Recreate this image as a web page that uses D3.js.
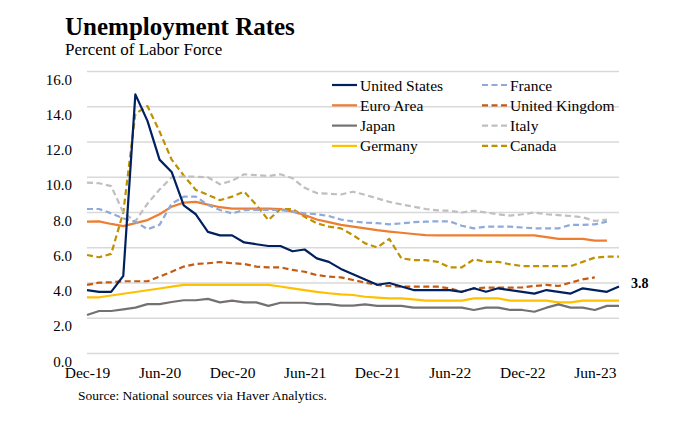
<!DOCTYPE html>
<html><head><meta charset="utf-8">
<script src="https://cdn.jsdelivr.net/npm/d3@7"></script>
<style>
html,body{margin:0;padding:0;background:#fff;}
svg text{font-family:"Liberation Serif","Times New Roman",serif;fill:#000;}
</style></head>
<body><svg id="c" width="690" height="424"></svg>
<script>
const months = ["Dec-19","Jan-20","Feb-20","Mar-20","Apr-20","May-20","Jun-20","Jul-20","Aug-20","Sep-20","Oct-20","Nov-20",
"Dec-20","Jan-21","Feb-21","Mar-21","Apr-21","May-21","Jun-21","Jul-21","Aug-21","Sep-21","Oct-21","Nov-21",
"Dec-21","Jan-22","Feb-22","Mar-22","Apr-22","May-22","Jun-22","Jul-22","Aug-22","Sep-22","Oct-22","Nov-22",
"Dec-22","Jan-23","Feb-23","Mar-23","Apr-23","May-23","Jun-23","Jul-23","Aug-23"];
const xTickLabels = ["Dec-19","Jun-20","Dec-20","Jun-21","Dec-21","Jun-22","Dec-22","Jun-23"];
const yTicks = [0,2,4,6,8,10,12,14,16];

const unitedStates = [3.6,3.5,3.5,4.4,14.7,13.2,11.0,10.3,8.4,7.9,6.9,6.7,6.7,6.3,6.2,6.1,6.1,5.8,5.9,5.4,5.2,4.8,4.5,4.2,3.9,4.0,3.8,3.6,3.6,3.6,3.6,3.5,3.7,3.5,3.7,3.6,3.5,3.4,3.6,3.5,3.4,3.7,3.6,3.5,3.8];
const euroArea = [7.48,7.5,7.35,7.23,7.4,7.57,7.9,8.33,8.56,8.6,8.45,8.3,8.22,8.22,8.22,8.22,8.2,8.05,7.86,7.6,7.45,7.3,7.2,7.1,7.0,6.92,6.85,6.78,6.72,6.7,6.7,6.7,6.7,6.7,6.7,6.7,6.7,6.7,6.6,6.5,6.5,6.5,6.4,6.4];
const japan = [2.18,2.41,2.41,2.5,2.6,2.8,2.8,2.92,3.02,3.02,3.1,2.9,3.0,2.9,2.9,2.7,2.88,2.88,2.88,2.8,2.8,2.72,2.72,2.79,2.7,2.7,2.7,2.6,2.6,2.6,2.6,2.6,2.47,2.6,2.6,2.47,2.47,2.37,2.6,2.79,2.6,2.6,2.47,2.7,2.7];
const germany = [3.19,3.19,3.29,3.39,3.49,3.59,3.69,3.79,3.89,3.89,3.89,3.89,3.89,3.89,3.89,3.89,3.8,3.7,3.6,3.5,3.42,3.35,3.32,3.22,3.17,3.13,3.13,3.07,3.0,3.0,3.0,3.0,3.13,3.13,3.13,3.0,3.0,3.0,3.0,2.9,2.9,3.0,3.0,3.0,3.0];
const france = [8.2,8.2,7.95,7.67,7.48,7.05,7.3,8.5,8.9,8.9,8.43,8.14,7.95,8.14,8.15,8.15,8.14,8.05,7.95,7.9,7.8,7.6,7.5,7.42,7.4,7.33,7.38,7.45,7.48,7.5,7.5,7.25,7.1,7.2,7.2,7.2,7.15,7.1,7.1,7.1,7.3,7.3,7.33,7.48];
const unitedKingdom = [3.89,4.02,4.04,4.1,4.1,4.1,4.36,4.64,4.93,5.08,5.12,5.19,5.12,5.08,4.93,4.89,4.89,4.74,4.64,4.45,4.36,4.32,4.17,4.02,3.89,3.83,3.79,3.79,3.79,3.79,3.7,3.5,3.7,3.74,3.74,3.74,3.75,3.83,3.89,3.83,4.02,4.21,4.32];
const italy = [9.7,9.66,9.5,8.0,7.5,8.5,9.3,10.0,10.05,10.03,10.0,9.6,9.8,10.17,10.12,10.07,10.17,9.94,9.4,9.1,9.07,9.02,9.18,9.0,8.8,8.6,8.46,8.33,8.2,8.12,8.1,8.0,8.1,8.0,7.9,7.82,7.9,8.0,7.9,7.85,7.8,7.73,7.52,7.6];
const canada = [5.59,5.46,5.65,8.0,13.6,14.04,12.6,11.0,10.1,9.28,9.0,8.7,8.9,9.18,8.43,7.57,8.2,8.2,7.76,7.39,7.2,7.1,6.72,6.25,6.02,6.5,5.4,5.3,5.3,5.2,4.89,4.89,5.34,5.2,5.2,5.06,4.96,4.96,4.96,4.96,4.96,5.2,5.44,5.5,5.5];

const seriesNames = ["United States","France","Euro Area","United Kingdom","Japan","Italy","Germany","Canada"];
const seriesValues = [unitedStates,france,euroArea,unitedKingdom,japan,italy,germany,canada];
const seriesColors = ["#002060","#8eaadb","#ed7d31","#c55a11","#767171","#bfbfbf","#ffc000","#bf9000"];
const seriesDashed = [false,true,false,true,false,true,false,true];
const legendOrder = ["United States","Euro Area","Japan","Germany","France","United Kingdom","Italy","Canada"];

const FONT = "'Liberation Serif','Times New Roman',serif";
const svg = d3.select("#c");
const x = d3.scalePoint().domain(months).range([87,619]);
const y = d3.scaleLinear().domain([0,16]).range([353.5,71.5]);

// gridlines
svg.append("g").selectAll("line").data(yTicks).join("line")
  .attr("x1",87).attr("x2",619).attr("y1",d=>y(d)).attr("y2",d=>y(d))
  .attr("stroke","#d9d9d9").attr("stroke-width",1.3);

// y axis labels
const ya = svg.append("g").attr("transform","translate(72,0)")
  .call(d3.axisLeft(y).tickValues(yTicks).tickFormat(d3.format(".1f")).tickSize(0).tickPadding(0));
ya.attr("font-family",FONT);
ya.select(".domain").remove();
ya.selectAll("text").attr("font-size","15px").attr("dy","0").attr("y",12.5)
  .style("font-family",FONT).attr("fill","#000");

// x axis labels
const xa = svg.append("g").attr("transform","translate(0,353.5)")
  .call(d3.axisBottom(x).tickValues(xTickLabels).tickSize(0).tickPadding(0));
xa.attr("font-family",FONT);
xa.select(".domain").remove();
xa.selectAll("text").attr("font-size","15.5px").attr("dy","0").attr("y",24.5)
  .style("font-family",FONT).attr("fill","#000");

// lines
const line = d3.line().x((d,i)=>x(months[i])).y(d=>y(d));
const drawOrder = [7,6,5,4,3,2,1,0];
drawOrder.forEach(k=>{
  svg.append("path").datum(seriesValues[k])
    .attr("d",line).attr("fill","none")
    .attr("stroke",seriesColors[k]).attr("stroke-width",2.2)
    .attr("stroke-linejoin","round")
    .attr("stroke-dasharray",seriesDashed[k]?"6,3.5":null);
});

// end label
svg.append("text").attr("x",631).attr("y",y(unitedStates[unitedStates.length-1])+1.5)
  .attr("font-family",FONT)
  .attr("font-size","14px").attr("font-weight","bold").text(d3.format(".1f")(unitedStates[unitedStates.length-1]));

// legend
const lg = svg.append("g");
legendOrder.forEach((name,j)=>{
  const k = seriesNames.indexOf(name);
  const col = Math.floor(j/4), row = j%4;
  const lx = col===0?332:482, ly = 85 + row*20.3;
  lg.append("line").attr("x1",lx).attr("x2",lx+25).attr("y1",ly).attr("y2",ly)
    .attr("stroke",seriesColors[k]).attr("stroke-width",2.2)
    .attr("stroke-dasharray",seriesDashed[k]?"6,3.5":null);
  lg.append("text").attr("x",lx+28).attr("y",ly+5.5).attr("font-family",FONT).attr("font-size","15.5px").text(name);
});

// titles
svg.append("text").attr("x",65).attr("y",35).attr("font-family",FONT).attr("font-size","25px").attr("font-weight","bold").text("Unemployment Rates");
svg.append("text").attr("x",65).attr("y",55).attr("font-family",FONT).attr("font-size","17px").text("Percent of Labor Force");
svg.append("text").attr("x",78).attr("y",400).attr("font-family",FONT).attr("font-size","13.5px").text("Source: National sources via Haver Analytics.");
</script></body></html>
